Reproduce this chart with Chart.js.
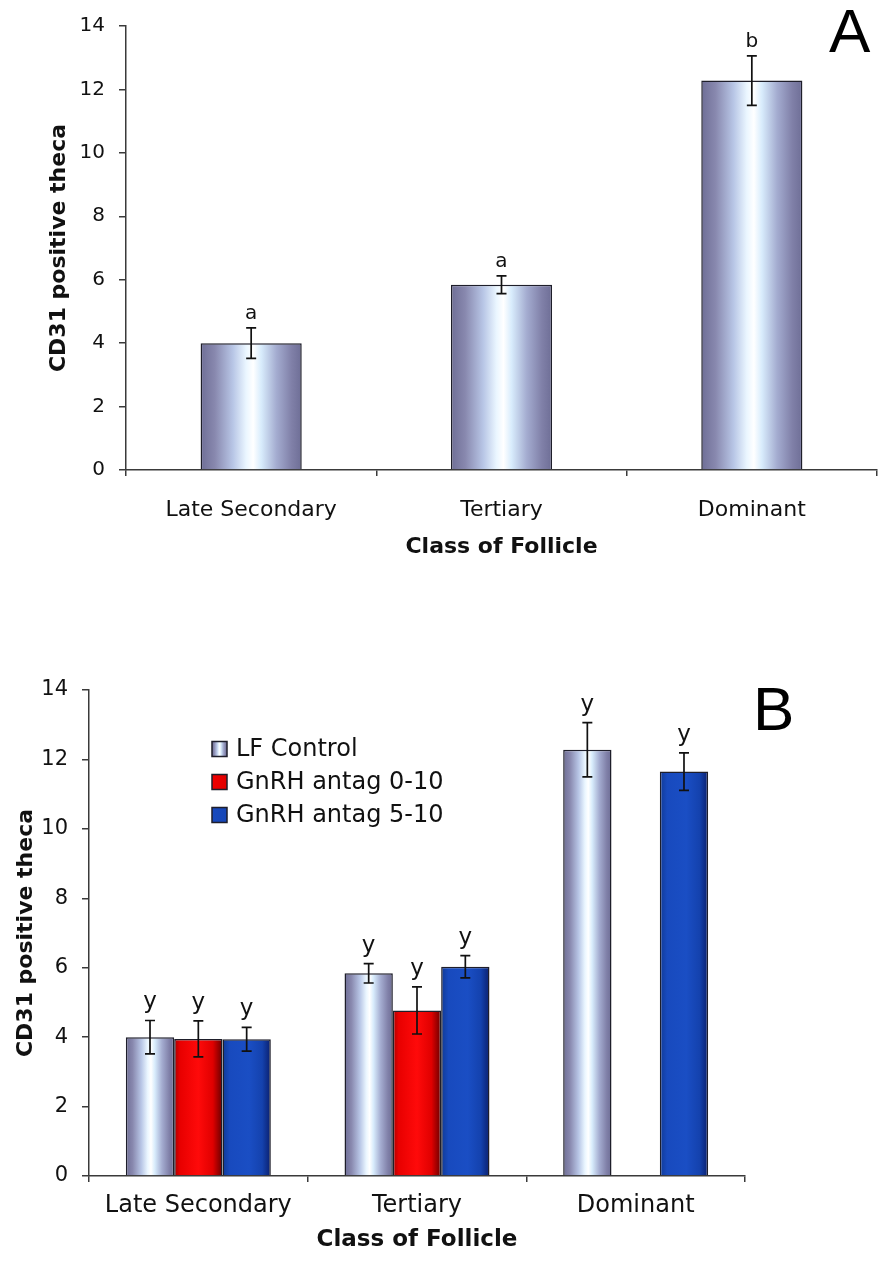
<!DOCTYPE html>
<html>
<head>
<meta charset="utf-8">
<title>CD31 positive theca by class of follicle</title>
<script src="https://cdn.jsdelivr.net/npm/chart.js@4.4.1/dist/chart.umd.min.js"></script>
<style>
  html, body { margin: 0; padding: 0; background: #ffffff; }
  canvas { position: absolute; left: 0; }
  #chartA { top: 0; }
  #chartB { top: 600px; }
</style>
</head>
<body>
<canvas id="chartA" width="879" height="600"></canvas>
<canvas id="chartB" width="879" height="662"></canvas>
<script>
'use strict';

// 1. DATA
const CATEGORIES = ['Late Secondary', 'Tertiary', 'Dominant'];
const Y_TICKS    = [0, 2, 4, 6, 8, 10, 12, 14];
const SERIES     = ['LF Control', 'GnRH antag 0-10', 'GnRH antag 5-10'];

// LF Control (panel A and B)
const controlMean  = [4.0, 5.84, 12.28];
const controlSem   = [0.48, 0.28, 0.78];
const lettersA     = ['a', 'a', 'b'];
const lettersCtrlB = ['y', 'y', 'y'];

// GnRH antagonist groups (panel B)
const antag010Mean = [3.95, 4.77, null];
const antag010Sem  = [0.52, 0.68, null];
const letters010   = ['y', 'y', null];
const antag510Mean = [3.94, 6.03, 11.65];
const antag510Sem  = [0.34, 0.32, 0.54];
const letters510   = ['y', 'y', 'y'];

// 2. STYLE
const FONT  = "'DejaVu Sans', Verdana, sans-serif";
const INK   = '#111111';
const AXIS  = '#3a3a3a';
const EDGE  = '#1e1e2a';

const STOPS_CONTROL = [
  [0, '#6e6e96'], [0.14, '#8888ae'], [0.32, '#b8c6e6'], [0.45, '#eaf6ff'],
  [0.52, '#ffffff'], [0.6, '#d8ecfc'], [0.75, '#a4acd0'], [0.9, '#8080a8'], [1, '#6e6e96'],
];
const STOPS_RED  = [[0, '#a80000'], [0.12, '#e80000'], [0.5, '#ff0a0a'], [0.8, '#e00000'], [1, '#680000']];
const STOPS_BLUE = [[0, '#103a96'], [0.15, '#184abe'], [0.55, '#1a4ec4'], [0.82, '#1442ae'], [1, '#0a1f6e']];

// gradient per bar, placed from the x scale of the chart
function barFill(stops, catPct, barPct) {
  const fallback = stops[Math.floor(stops.length / 2)][1];
  return (c) => {
    const chart = c.chart;
    const xs = chart.scales && chart.scales.x;
    if (c.type !== 'data' || !xs || !(xs.width > 0)) return fallback;
    const nCat  = chart.data.labels.length;
    const nDs   = chart.data.datasets.length;
    const catW  = xs.width / nCat;
    const chunk = catW * catPct / nDs;
    const left  = xs.getPixelForValue(c.dataIndex) - catW * catPct / 2
                + chunk * c.datasetIndex + chunk * (1 - barPct) / 2;
    const right = left + chunk * barPct;
    if (!Number.isFinite(left) || !Number.isFinite(right)) return fallback;
    const g = chart.ctx.createLinearGradient(left, 0, right, 0);
    stops.forEach(([p, col]) => g.addColorStop(p, col));
    return g;
  };
}

// 3. PLUGINS
const errorBars = {
  id: 'errorBars',
  afterDatasetsDraw(chart, args, opts) {
    const { ctx } = chart;
    const y = chart.scales.y;
    ctx.save();
    chart.data.datasets.forEach((ds, di) => {
      const meta = chart.getDatasetMeta(di);
      meta.data.forEach((bar, i) => {
        const v = ds.data[i];
        const e = ds.sem[i];
        if (v == null) return;
        const top = y.getPixelForValue(v + e);
        const bot = y.getPixelForValue(v - e);
        ctx.strokeStyle = INK;
        ctx.lineWidth = 1.7;
        ctx.beginPath();
        ctx.moveTo(bar.x, top); ctx.lineTo(bar.x, bot);
        ctx.moveTo(bar.x - 5, top); ctx.lineTo(bar.x + 5, top);
        ctx.moveTo(bar.x - 5, bot); ctx.lineTo(bar.x + 5, bot);
        ctx.stroke();
        if (ds.letters && ds.letters[i]) {
          ctx.fillStyle = INK;
          ctx.font = opts.letterFont;
          ctx.textAlign = 'center';
          ctx.textBaseline = 'alphabetic';
          ctx.fillText(ds.letters[i], bar.x, top - opts.letterGap);
        }
      });
    });
    ctx.restore();
  },
};

const panelLabel = {
  id: 'panelLabel',
  afterDraw(chart, args, opts) {
    const { ctx } = chart;
    ctx.save();
    ctx.fillStyle = '#000';
    ctx.font = "62px 'Liberation Sans', Arial, sans-serif";
    ctx.textAlign = 'left';
    ctx.textBaseline = 'alphabetic';
    ctx.fillText(opts.text, opts.x, opts.y);
    ctx.restore();
  },
};

const boxLegend = {
  id: 'boxLegend',
  afterDraw(chart, args, opts) {
    if (!opts.show) return;
    const { ctx } = chart;
    ctx.save();
    chart.data.datasets.forEach((ds, i) => {
      const y = opts.y + i * opts.gap;
      const g = ctx.createLinearGradient(opts.x, 0, opts.x + 15, 0);
      ds.legendStops.forEach(([p, col]) => g.addColorStop(p, col));
      ctx.fillStyle = g;
      ctx.fillRect(opts.x, y - 7.5, 15, 15);
      ctx.strokeStyle = EDGE;
      ctx.lineWidth = 1.5;
      ctx.strokeRect(opts.x, y - 7.5, 15, 15);
      ctx.fillStyle = INK;
      ctx.font = `24px ${FONT}`;
      ctx.textAlign = 'left';
      ctx.textBaseline = 'middle';
      ctx.fillText(ds.label, opts.x + 24, y + 1);
    });
    ctx.restore();
  },
};

function axes(o) {
  return {
    x: {
      offset: true,
      grid: { offset: true, drawOnChartArea: false, drawTicks: true, tickLength: 6, color: AXIS, lineWidth: 1.5 },
      border: { color: AXIS, width: 1.5 },
      ticks: { color: INK, font: { family: FONT, size: o.xTickSize }, padding: o.xTickPad, maxRotation: 0, autoSkip: false },
      title: {
        display: true, text: 'Class of Follicle', color: INK,
        font: { family: FONT, size: o.xTitleSize, weight: 'bold' },
        padding: { top: 0, bottom: o.xTitlePad },
      },
      afterFit: (s) => { s.height = o.xHeight; },
    },
    y: {
      min: Y_TICKS[0],
      max: Y_TICKS[Y_TICKS.length - 1],
      afterBuildTicks: (s) => { s.ticks = Y_TICKS.map((v) => ({ value: v })); },
      grid: { drawOnChartArea: false, drawTicks: true, tickLength: 7, color: AXIS, lineWidth: 1.5 },
      border: { color: AXIS, width: 1.5 },
      ticks: { color: INK, font: { family: FONT, size: o.yTickSize }, padding: 14 },
      title: {
        display: true, text: 'CD31 positive theca', color: INK,
        font: { family: FONT, size: 22, weight: 'bold' },
        padding: { top: o.yTitlePad, bottom: 0 },
      },
      afterFit: (s) => { s.width = o.yWidth; },
    },
  };
}

// 4. PANEL A
new Chart(document.getElementById('chartA'), {
  type: 'bar',
  data: {
    labels: CATEGORIES,
    datasets: [{
      label: SERIES[0],
      data: controlMean,
      sem: controlSem,
      letters: lettersA,
      backgroundColor: barFill(STOPS_CONTROL, 1, 0.404),
      borderColor: EDGE,
      borderWidth: 1.5,
      categoryPercentage: 1,
      barPercentage: 0.404,
    }],
  },
  options: {
    responsive: false,
    animation: false,
    layout: { padding: { top: 24, right: 2, bottom: 0, left: 0 } },
    plugins: {
      legend: { display: false },
      tooltip: { enabled: false },
      errorBars: { letterFont: `20px ${FONT}`, letterGap: 9 },
      panelLabel: { text: 'A', x: 829, y: 52 },
    },
    scales: axes({
      xTickSize: 22, xTickPad: 21, xTitleSize: 22, xTitlePad: 40, xHeight: 130,
      yTickSize: 20, yTitlePad: 46, yWidth: 126,
    }),
  },
  plugins: [errorBars, panelLabel],
});

// 5. PANEL B
const CAT_PCT_B = 0.663;
new Chart(document.getElementById('chartB'), {
  type: 'bar',
  data: {
    labels: CATEGORIES,
    datasets: [
      {
        label: SERIES[0], data: controlMean, sem: controlSem, letters: lettersCtrlB,
        backgroundColor: barFill(STOPS_CONTROL, CAT_PCT_B, 1), legendStops: STOPS_CONTROL,
      },
      {
        label: SERIES[1], data: antag010Mean, sem: antag010Sem, letters: letters010,
        backgroundColor: barFill(STOPS_RED, CAT_PCT_B, 1), legendStops: [[0, '#f00000'], [1, '#e00000']],
      },
      {
        label: SERIES[2], data: antag510Mean, sem: antag510Sem, letters: letters510,
        backgroundColor: barFill(STOPS_BLUE, CAT_PCT_B, 1), legendStops: [[0, '#184abe'], [1, '#1646b6']],
      },
    ].map((d) => Object.assign(d, {
      borderColor: EDGE, borderWidth: 1.5, categoryPercentage: CAT_PCT_B, barPercentage: 1,
    })),
  },
  options: {
    responsive: false,
    animation: false,
    layout: { padding: { top: 90, right: 134, bottom: 0, left: 0 } },
    plugins: {
      legend: { display: false },
      tooltip: { enabled: false },
      errorBars: { letterFont: `23px ${FONT}`, letterGap: 12 },
      panelLabel: { text: 'B', x: 753, y: 130 },
      boxLegend: { show: true, x: 212, y: 149, gap: 33 },
    },
    scales: axes({
      xTickSize: 24, xTickPad: 9, xTitleSize: 23, xTitlePad: 8, xHeight: 86,
      yTickSize: 21, yTitlePad: 13, yWidth: 89,
    }),
  },
  plugins: [errorBars, panelLabel, boxLegend],
});
</script>
</body>
</html>
